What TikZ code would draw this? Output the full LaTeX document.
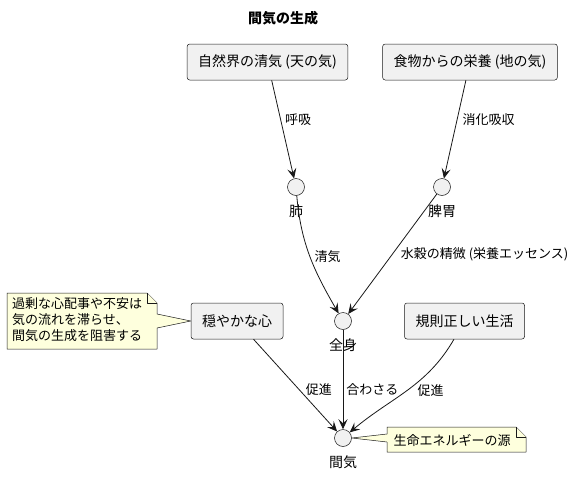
\documentclass[tikz,border=0pt]{standalone}
\usepackage{fontspec}
\newfontfamily\jpfont{Noto Sans CJK JP}
\usetikzlibrary{arrows.meta}

\definecolor{boxfill}{HTML}{F1F1F1}
\definecolor{notefill}{HTML}{FEFFDD}
\definecolor{linecol}{HTML}{181818}

\tikzset{
  srcbox/.style={draw=linecol, fill=boxfill, rounded corners=2.5pt, line width=0.5pt,
    minimum height=36pt, inner xsep=11pt, font=\jpfont\fontsize{14}{16}\selectfont},
  organ/.style={circle, draw=linecol, fill=boxfill, line width=0.5pt,
    minimum size=17pt, inner sep=0pt},
  orglbl/.style={font=\jpfont\fontsize{14}{16}\selectfont, inner sep=0pt, yshift=-9pt},
  flow/.style={-{Stealth[length=10pt,width=9pt,inset=4pt]}, draw=linecol, line width=0.8pt},
  elbl/.style={font=\jpfont\fontsize{13}{15}\selectfont, inner sep=0pt},
  notebox/.style={draw=linecol, fill=notefill, line width=0.5pt, line join=round},
  notetxt/.style={font=\jpfont\fontsize{13}{16}\selectfont, align=left, inner sep=0pt},
}

\begin{document}
\begin{tikzpicture}[x=1pt, y=-1pt]
    \useasboundingbox (0,0) rectangle (576,477);

    % Title
    \node[font=\jpfont\bfseries\fontsize{14}{16}\selectfont] (title) at (283,18) {間気の生成};

    % Sources of qi
    \node[srcbox] (tenki) at (267.5,62) {自然界の清気 (天の気)};
    \node[srcbox] (chiki) at (470,62) {食物からの栄養 (地の気)};

    % Organs and body
    \node[organ, label={[orglbl]below:肺}] (hai) at (296,187) {};
    \node[organ, label={[orglbl]below:脾胃}] (hii) at (442,187) {};
    \node[organ, label={[orglbl]below:全身}] (zenshin) at (343,321) {};
    \node[organ, label={[orglbl]below:間気}] (kanki) at (343,438) {};

    % Conditions
    \node[srcbox] (kokoro) at (237,321) {穏やかな心};
    \node[srcbox] (kisoku) at (464.5,321) {規則正しい生活};

    % Intake
    \draw[flow] (tenki) -- node[elbl, pos=0.4, right=4pt] {呼吸} (hai);
    \draw[flow] (chiki) -- node[elbl, pos=0.4, right=5pt] {消化吸収} (hii);

    % Into the whole body
    \draw[flow] (hai) to[out=-85, in=120]
        node[elbl, pos=0.5, right=4pt] {清気} (zenshin);
    \draw[flow] (hii) -- node[elbl, pos=0.5, right=8pt] {水穀の精微 (栄養エッセンス)} (zenshin);

    % Forming kanki
    \draw[flow] (zenshin) -- node[elbl, pos=0.6, right=3pt] {合わさる} (kanki);
    \draw[flow] (kokoro) -- node[elbl, pos=0.55, right=6pt] {促進} (kanki);
    \draw[flow] (kisoku) to[out=-120, in=40]
        node[elbl, pos=0.5, right=10pt] {促進} (kanki);

    % Note on the calm mind
    \draw[notebox] (7,293) -- (147,293) -- (157,303) -- (157,314) -- (kokoro.west)
        -- (157,328) -- (157,349) -- (7,349) -- cycle;
    \draw[notebox] (147,293) -- (147,303) -- (157,303);
    \node[notetxt, anchor=north west] (worry) at (12,297)
        {過剰な心配事や不安は\\気の流れを滞らせ、\\間気の生成を阻害する};

    % Note on kanki
    \draw[notebox] (387,427) -- (516,427) -- (526,437) -- (526,452) -- (387,452)
        -- (387,442) -- (kanki.east) -- (387,434) -- cycle;
    \draw[notebox] (516,427) -- (516,437) -- (526,437);
    \node[notetxt] (source) at (452,440) {生命エネルギーの源};
\end{tikzpicture}
\end{document}
